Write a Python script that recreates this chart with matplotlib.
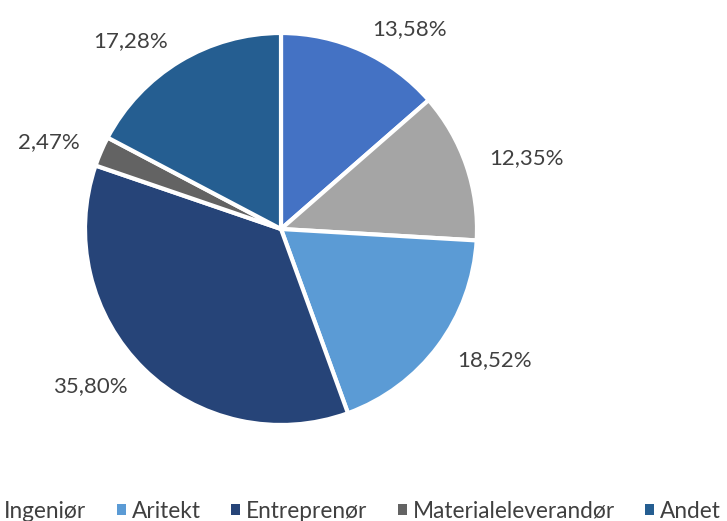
import matplotlib
matplotlib.use("Agg")
import matplotlib.pyplot as plt

# data
labels = ["Bygherre", "Ingeniør", "Aritekt", "Entreprenør", "Materialeleverandør", "Andet"]
values = [13.58, 12.35, 18.52, 35.80, 2.47, 17.28]
colors = ["#4472C4", "#A5A5A5", "#5B9BD5", "#264478", "#636363", "#255E91"]

plt.rcParams['font.family'] = ['Lato', 'DejaVu Sans']
text_color = "#404040"

W, H = 727, 521
fig = plt.figure(figsize=(W / 100, H / 100), dpi=100)

# pie centre and radius in pixels
cx, cy, r = 281, 229, 196
ax = fig.add_axes([(cx - r) / W, (H - cy - r) / H, 2 * r / W, 2 * r / H])

pct_labels = [f"{v:.2f}%".replace(".", ",") for v in values]
wedges, texts = ax.pie(values, labels=pct_labels, colors=colors, startangle=90,
                       counterclock=False, labeldistance=1.12, radius=1,
                       wedgeprops=dict(edgecolor="white", linewidth=3),
                       textprops=dict(color=text_color, fontsize=16))
ax.set_xlim(-1, 1)
ax.set_ylim(-1, 1)
ax.set_aspect("equal")

# legend runs off the left edge like in the original screenshot
leg_y = 1 - 511 / H
leg = fig.legend(wedges, labels, loc="center right", bbox_to_anchor=(1.0, leg_y),
                 ncol=6, frameon=False, fontsize=16.3, handlelength=0.4, handleheight=0.4,
                 handletextpad=0.25, columnspacing=1.35, borderaxespad=0, borderpad=0)
for t in leg.get_texts():
    t.set_color(text_color)
for h in leg.legend_handles:
    h.set_edgecolor("none")

# shift so that "Ingeniør" starts just inside the left edge
fig.canvas.draw()
x0 = leg.get_texts()[1].get_window_extent().x0
leg.set_bbox_to_anchor((1.0 + (4 - x0) / W, leg_y), transform=fig.transFigure)

fig.savefig("out.png", dpi=100)
